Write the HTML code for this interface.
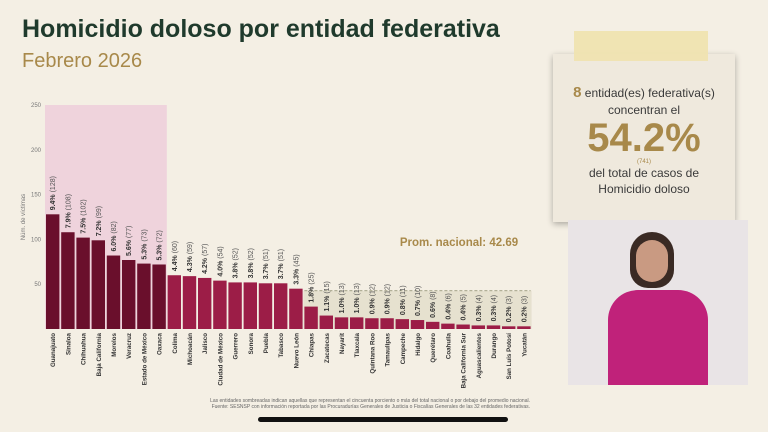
<!DOCTYPE html>
<html><head><meta charset="utf-8"><style>
body{margin:0;width:768px;height:432px;overflow:hidden;background:#f4efe4;font-family:"Liberation Sans",sans-serif;position:relative}
.abs{position:absolute}
</style></head><body>
<div class="abs" style="left:22px;top:15px;font-size:25px;letter-spacing:0px;font-weight:bold;color:#1f3a2c">Homicidio doloso por entidad federativa</div>
<div class="abs" style="left:22px;top:50px;font-size:20px;color:#a8894a">Febrero 2026</div>
<div class="abs" style="left:553px;top:54px;width:182px;height:168px;background:#efe9dd;box-shadow:0 2px 6px rgba(0,0,0,.3);text-align:center;color:#3a3a3a">
 <div style="margin-top:30px;font-size:12px"><b style="color:#a8894a;font-size:15px">8</b> entidad(es) federativa(s)</div>
 <div style="font-size:12px;margin-top:2px">concentran el</div>
 <div style="font-size:40px;font-weight:bold;color:#a8894a;line-height:42px">54.2%</div>
 <div style="font-size:6px;color:#a8894a">(741)</div>
 <div style="font-size:12px;line-height:16px">del total de casos de<br>Homicidio doloso</div>
</div>
<div class="abs" style="left:574px;top:31px;width:134px;height:30px;background:#efe3b0;opacity:.95"></div>
<div class="abs" style="left:568px;top:220px;width:180px;height:165px;background:#e9e4e6;overflow:hidden">
 <div style="position:absolute;left:62px;top:12px;width:44px;height:56px;border-radius:22px 22px 18px 18px;background:#3a2a24"></div>
 <div style="position:absolute;left:68px;top:20px;width:32px;height:42px;border-radius:16px;background:#c99a82"></div>
 <div style="position:absolute;left:40px;top:70px;width:100px;height:95px;border-radius:30px 30px 0 0;background:#c0227a"></div>
</div>
<svg class="abs" style="left:0;top:0" width="768" height="432" id="chart"></svg>
<div class="abs" style="left:160px;top:398px;width:370px;text-align:right;font-size:5px;color:#666;line-height:6px">Las entidades sombreadas indican aquellas que representan el cincuenta porciento o más del total nacional o por debajo del promedio nacional.<br>Fuente: SESNSP con información reportada por las Procuradurías Generales de Justicia o Fiscalías Generales de las 32 entidades federativas.</div>
<div class="abs" style="left:258px;top:417px;width:250px;height:5px;border-radius:3px;background:#111"></div>
<script>
const states=["Guanajuato","Sinaloa","Chihuahua","Baja California","Morelos","Veracruz","Estado de México","Oaxaca","Colima","Michoacán","Jalisco","Ciudad de México","Guerrero","Sonora","Puebla","Tabasco","Nuevo León","Chiapas","Zacatecas","Nayarit","Tlaxcala","Quintana Roo","Tamaulipas","Campeche","Hidalgo","Querétaro","Coahuila","Baja California Sur","Aguascalientes","Durango","San Luis Potosí","Yucatán"];
const values=[128,108,102,99,82,77,73,72,60,59,57,54,52,52,51,51,45,25,15,13,13,12,12,11,10,8,6,5,4,4,3,3];
const pcts=["9.4%","7.9%","7.5%","7.2%","6.0%","5.6%","5.3%","5.3%","4.4%","4.3%","4.2%","4.0%","3.8%","3.8%","3.7%","3.7%","3.3%","1.8%","1.1%","1.0%","1.0%","0.9%","0.9%","0.8%","0.7%","0.6%","0.4%","0.4%","0.3%","0.3%","0.2%","0.2%"];
const yTicks=[50,100,150,200,250];
const avg=42.69;
const topCount=8;
const svg=document.getElementById('chart');const NS='http://www.w3.org/2000/svg';
const x0=46,step=15.2,bw=13.4,base=329,k=(329-105)/250;
const y=v=>base-v*k, x=i=>x0+i*step;
function mk(t,a,p){const e=document.createElementNS(NS,t);for(const q in a)e.setAttribute(q,a[q]);(p||svg).appendChild(e);return e;}
let hl=mk('rect',{x:x0-1,y:y(250),width:x(topCount-1)+bw-x0+2,height:y(0)-y(250),fill:'#efd3dc'});


const firstBelow=values.findIndex(v=>v<avg);
let sh=mk('rect',{x:x(firstBelow)-1,y:y(avg),width:x(values.length-1)+bw-x(firstBelow)+2,height:y(0)-y(avg),fill:'#e6e1cf'});


let al=mk('line',{x1:x(firstBelow),x2:x(values.length-1)+bw,y1:y(avg),y2:y(avg),stroke:'#8a8a6a','stroke-dasharray':'3,2','stroke-width':0.7});


let at=mk('text',{x:459,y:246,'font-size':11.5,'font-weight':'bold',fill:'#a8894a','text-anchor':'middle'});at.textContent='Prom. nacional: '+avg;


yTicks.forEach(t=>{const e=mk('text',{x:41,y:y(t)+2,'font-size':6,fill:'#777','text-anchor':'end'});e.textContent=t;

});
let yt=mk('text',{transform:`translate(25,${y(125)}) rotate(-90)`,'font-size':6,fill:'#777','text-anchor':'middle'});yt.textContent='Núm. de víctimas';


values.forEach((v,i)=>{
 const b=mk('rect',{x:x(i),y:y(v),width:bw,height:y(0)-y(v),fill:i<topCount?'#6a0f2c':'#9c1d47'});
 
 
 const cx=x(i)+bw/2+2.5;
 const l=mk('text',{transform:`translate(${cx},${y(v)-4}) rotate(-90)`,'font-size':7,fill:'#333'});
 const s1=mk('tspan',{'font-weight':'bold'},l);s1.textContent=pcts[i];
 const s2=mk('tspan',{fill:'#555'},l);s2.textContent=' ('+v+')';
 
 
 const n=mk('text',{transform:`translate(${cx},${base+4}) rotate(-90)`,'font-size':6.2,'font-weight':'bold',fill:'#333','text-anchor':'end'});n.textContent=states[i];
 
 
});
</script>
</body></html>
